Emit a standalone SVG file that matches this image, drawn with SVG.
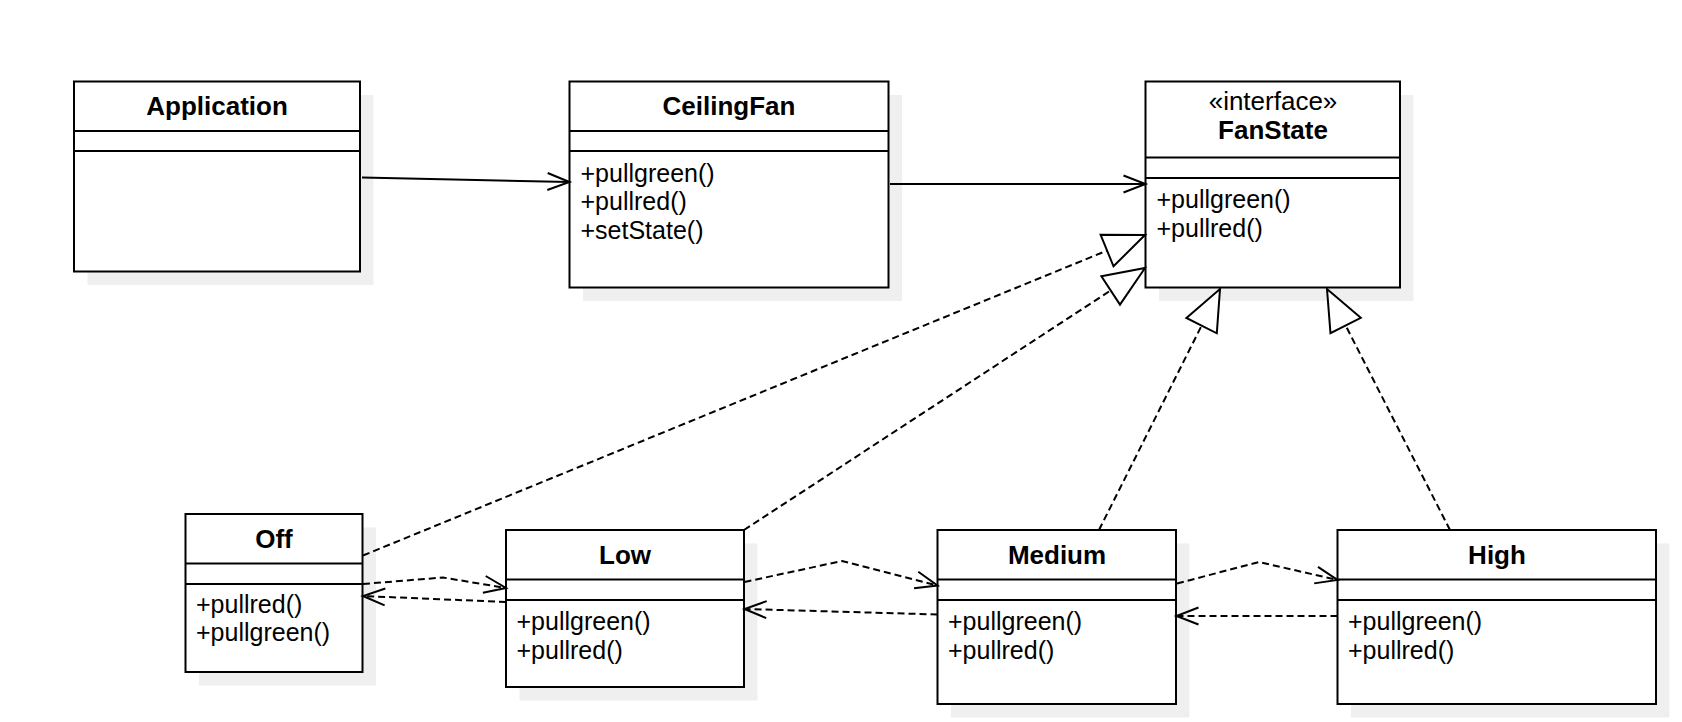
<svg xmlns="http://www.w3.org/2000/svg" width="1682" height="722" viewBox="0 0 1682 722">
  <style>
    .shadow { fill: #efefef; stroke: none; }
    .box { fill: #ffffff; stroke: #000000; stroke-width: 2; }
    .sep { stroke: #000000; stroke-width: 2; fill: none; }
    .name { font-family: "Liberation Sans", Arial, sans-serif; font-size: 26px; font-weight: bold; text-anchor: middle; fill: #000000; }
    .stereo { font-family: "Liberation Sans", Arial, sans-serif; font-size: 26px; text-anchor: middle; fill: #000000; }
    .op { font-family: "Liberation Sans", Arial, sans-serif; font-size: 25px; fill: #000000; }
    .assoc { fill: none; stroke: #000000; stroke-width: 2; marker-end: url(#open); }
    .dep { fill: none; stroke: #000000; stroke-width: 2; stroke-dasharray: 7 4; marker-end: url(#open); }
    .real { fill: none; stroke: #000000; stroke-width: 2; stroke-dasharray: 7 4; marker-end: url(#hollow); }
  </style>
  <defs>
    <marker id="open" markerUnits="userSpaceOnUse" markerWidth="30" markerHeight="24" viewBox="-24 -12 26 24" refX="0" refY="0" orient="auto" overflow="visible">
      <path d="M -22 -8.5 L 0 0 L -22 8.5" fill="none" stroke="#000000" stroke-width="2" stroke-dasharray="none"/>
    </marker>
    <marker id="hollow" markerUnits="userSpaceOnUse" markerWidth="46" markerHeight="40" viewBox="-44 -20 46 40" refX="0" refY="0" orient="auto" overflow="visible">
      <path d="M -41 -17 L 0 0 L -41 17 Z" fill="#ffffff" stroke="#000000" stroke-width="2" stroke-dasharray="none"/>
    </marker>
  </defs>

  <rect width="1682" height="722" fill="#ffffff"/>

  <!-- classes -->
  <g id="application">
    <rect class="shadow" x="87.5" y="95" width="286" height="190"/>
    <rect class="box" x="74" y="81.5" width="286" height="190"/>
    <line class="sep" x1="74" y1="131" x2="360" y2="131"/>
    <line class="sep" x1="74" y1="151" x2="360" y2="151"/>
    <text class="name" x="217" y="114.5">Application</text>
  </g>

  <g id="ceilingfan">
    <rect class="shadow" x="583" y="95" width="319" height="206"/>
    <rect class="box" x="569.5" y="81.5" width="319" height="206"/>
    <line class="sep" x1="569.5" y1="131" x2="888.5" y2="131"/>
    <line class="sep" x1="569.5" y1="151" x2="888.5" y2="151"/>
    <text class="name" x="729" y="114.5">CeilingFan</text>
    <text class="op" x="580.5" y="181.5">+pullgreen()</text>
    <text class="op" x="580.5" y="210">+pullred()</text>
    <text class="op" x="580.5" y="238.5">+setState()</text>
  </g>

  <g id="fanstate">
    <rect class="shadow" x="1159" y="95" width="254.5" height="206"/>
    <rect class="box" x="1145.5" y="81.5" width="254.5" height="206"/>
    <line class="sep" x1="1145.5" y1="157.5" x2="1400" y2="157.5"/>
    <line class="sep" x1="1145.5" y1="178" x2="1400" y2="178"/>
    <text class="stereo" x="1273" y="110">«interface»</text>
    <text class="name" x="1273" y="138.5">FanState</text>
    <text class="op" x="1156.5" y="208">+pullgreen()</text>
    <text class="op" x="1156.5" y="236.5">+pullred()</text>
  </g>

  <g id="off">
    <rect class="shadow" x="199" y="527.5" width="177" height="158"/>
    <rect class="box" x="185.5" y="514" width="177" height="158"/>
    <line class="sep" x1="185.5" y1="563.5" x2="362.5" y2="563.5"/>
    <line class="sep" x1="185.5" y1="584" x2="362.5" y2="584"/>
    <text class="name" x="274" y="547.5">Off</text>
    <text class="op" x="196" y="613">+pullred()</text>
    <text class="op" x="196" y="641">+pullgreen()</text>
  </g>

  <g id="low">
    <rect class="shadow" x="519.5" y="543.5" width="238" height="157"/>
    <rect class="box" x="506" y="530" width="238" height="157"/>
    <line class="sep" x1="506" y1="579.5" x2="744" y2="579.5"/>
    <line class="sep" x1="506" y1="600" x2="744" y2="600"/>
    <text class="name" x="625" y="563.5">Low</text>
    <text class="op" x="516.5" y="630">+pullgreen()</text>
    <text class="op" x="516.5" y="658.5">+pullred()</text>
  </g>

  <g id="medium">
    <rect class="shadow" x="951" y="543.5" width="238.5" height="174"/>
    <rect class="box" x="937.5" y="530" width="238.5" height="174"/>
    <line class="sep" x1="937.5" y1="579.5" x2="1176" y2="579.5"/>
    <line class="sep" x1="937.5" y1="600" x2="1176" y2="600"/>
    <text class="name" x="1057" y="563.5">Medium</text>
    <text class="op" x="948" y="630">+pullgreen()</text>
    <text class="op" x="948" y="658.5">+pullred()</text>
  </g>

  <g id="high">
    <rect class="shadow" x="1351" y="543.5" width="318.5" height="174"/>
    <rect class="box" x="1337.5" y="530" width="318.5" height="174"/>
    <line class="sep" x1="1337.5" y1="579.5" x2="1656" y2="579.5"/>
    <line class="sep" x1="1337.5" y1="600" x2="1656" y2="600"/>
    <text class="name" x="1497" y="563.5">High</text>
    <text class="op" x="1348" y="630">+pullgreen()</text>
    <text class="op" x="1348" y="658.5">+pullred()</text>
  </g>

  <!-- connectors -->
  <g id="connectors">
    <!-- associations -->
    <path class="assoc" d="M 362 177.5 L 569.5 182"/>
    <path class="assoc" d="M 890 184 L 1145.5 184"/>

    <!-- realizations of FanState -->
    <path class="real" d="M 363 555.5 L 1145 235"/>
    <path class="real" d="M 744 530 L 1145 268"/>
    <path class="real" d="M 1099 530 L 1220 289"/>
    <path class="real" d="M 1450 530 L 1327 289"/>

    <!-- state transitions -->
    <path class="dep" d="M 363 584 L 443 577.5 L 506 588"/>
    <path class="dep" d="M 506 602 L 363 596"/>
    <path class="dep" d="M 744.5 582 L 842 561 L 937.5 585.5"/>
    <path class="dep" d="M 937.5 614.5 L 744.5 609"/>
    <path class="dep" d="M 1177 583.5 L 1259 562 L 1337.5 580"/>
    <path class="dep" d="M 1337.5 616 L 1176.5 616"/>
  </g>
</svg>
